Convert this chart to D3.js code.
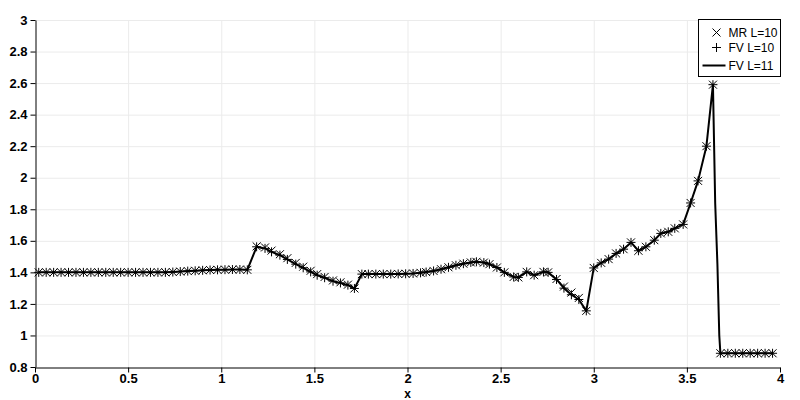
<!DOCTYPE html>
<html>
<head>
<meta charset="utf-8">
<script src="https://cdn.jsdelivr.net/npm/d3@7"></script>
<style>
  body { margin: 0; background: #fff; }
  #chart text { font-family: "Liberation Sans", Arial, sans-serif; }
  .axis text { font-size: 13px; font-weight: bold; fill: #000; }
  .axis path, .axis line { stroke: #000; }
  .grid line { stroke: #ebebeb; }
</style>
</head>
<body>
<div id="chart"></div>
<script>
// sample positions (adaptive mesh)
const xPos = [
  0.02,0.06,0.10,0.14,0.18,0.22,0.26,0.30,0.34,0.38,0.42,0.46,0.50,0.54,0.58,0.62,0.66,0.70,
  0.74,0.78,0.82,0.86,0.90,0.94,0.98,1.02,1.06,1.10,1.14,
  1.19,1.235,1.27,1.315,1.355,1.40,1.44,1.48,1.515,1.555,1.60,1.64,1.68,1.715,
  1.755,1.79,1.83,1.87,1.91,1.95,1.99,2.03,2.07,2.10,
  2.14,2.18,2.22,2.26,2.30,2.34,2.37,2.41,2.44,2.48,2.52,2.57,
  2.595,2.64,2.68,2.73,2.755,2.80,2.84,2.88,2.92,2.96,
  3.00,3.04,3.08,3.12,3.16,3.20,3.24,3.28,3.325,3.36,3.40,
  3.435,3.48,3.52,3.56,3.605,3.64,
  3.68,3.72,3.76,3.80,3.84,3.88,3.92,3.96
];
const fvL10 = [
  1.40,1.40,1.40,1.40,1.40,1.40,1.40,1.40,1.40,1.40,1.40,1.40,1.40,1.40,1.40,1.40,1.40,1.40,
  1.402,1.405,1.408,1.410,1.413,1.415,1.416,1.417,1.418,1.418,1.416,
  1.562,1.552,1.530,1.509,1.482,1.452,1.429,1.403,1.382,1.366,1.344,1.333,1.319,1.298,
  1.389,1.389,1.389,1.389,1.389,1.390,1.391,1.393,1.397,1.402,
  1.409,1.420,1.432,1.445,1.455,1.463,1.467,1.462,1.452,1.431,1.400,1.371,
  1.368,1.403,1.382,1.403,1.400,1.355,1.300,1.258,1.228,1.156,
  1.428,1.460,1.484,1.520,1.547,1.590,1.537,1.562,1.604,1.647,1.657,
  1.679,1.704,1.840,1.980,2.200,2.590,
  0.887,0.887,0.887,0.887,0.887,0.887,0.887,0.887
];
const mrL10 = [
  1.40,1.40,1.40,1.40,1.40,1.40,1.40,1.40,1.40,1.40,1.40,1.40,1.40,1.40,1.40,1.40,1.40,1.40,
  1.402,1.405,1.408,1.410,1.413,1.415,1.416,1.417,1.418,1.418,1.416,
  1.565,1.558,1.538,1.515,1.490,1.460,1.436,1.410,1.389,1.371,1.349,1.337,1.322,1.298,
  1.389,1.389,1.389,1.389,1.389,1.390,1.391,1.393,1.397,1.402,
  1.409,1.420,1.432,1.445,1.455,1.463,1.467,1.462,1.452,1.431,1.400,1.371,
  1.368,1.403,1.382,1.403,1.400,1.358,1.310,1.272,1.238,1.156,
  1.428,1.460,1.484,1.520,1.547,1.590,1.537,1.562,1.604,1.647,1.657,
  1.679,1.704,1.840,1.980,2.200,2.590,
  0.887,0.887,0.887,0.887,0.887,0.887,0.887,0.887
];
// FV L=11 follows the L=10 samples plus extra points inside the shock
const shockX = [3.652, 3.664, 3.674];
const shockY = [1.84, 1.45, 1.00];

const xTicks = [0, 0.5, 1, 1.5, 2, 2.5, 3, 3.5, 4];
const yTicks = [0.8, 1, 1.2, 1.4, 1.6, 1.8, 2, 2.2, 2.4, 2.6, 2.8, 3];
const legendLabels = ["MR L=10", "FV L=10", "FV L=11"];

const w = 800, h = 400;
const margin = {left: 35, right: 20, top: 20, bottom: 33};

const x = d3.scaleLinear().domain([0, 4]).range([margin.left, w - margin.right]);
const y = d3.scaleLinear().domain([0.8, 3]).range([h - margin.bottom, margin.top]);

const svg = d3.select("#chart").append("svg")
  .attr("width", w)
  .attr("height", h);

svg.append("rect").attr("width", w).attr("height", h).attr("fill", "#fff");

// grid
svg.append("g").attr("class", "grid")
  .selectAll("line.v").data(xTicks.filter(d => d > 0 && d < 4)).enter()
  .append("line")
  .attr("x1", d => x(d) + 0.5).attr("x2", d => x(d) + 0.5)
  .attr("y1", y(3)).attr("y2", y(0.8));
svg.append("g").attr("class", "grid")
  .selectAll("line.h").data(yTicks.filter(d => d > 0.8)).enter()
  .append("line")
  .attr("x1", x(0)).attr("x2", x(4))
  .attr("y1", d => y(d) + 0.5).attr("y2", d => y(d) + 0.5);

const fmt = d => d3.format("~g")(d);

svg.append("g")
  .attr("class", "axis")
  .attr("transform", "translate(0," + (h - margin.bottom + 0.5) + ")")
  .call(d3.axisBottom(x).tickValues(xTicks).tickFormat(fmt).tickSize(5).tickPadding(1).tickSizeOuter(0));

svg.append("g")
  .attr("class", "axis")
  .attr("transform", "translate(" + (margin.left + 0.5) + ",0)")
  .call(d3.axisLeft(y).tickValues(yTicks).tickFormat(fmt).tickSize(5).tickSizeOuter(0));

svg.append("text")
  .attr("x", x(2))
  .attr("y", h - 2)
  .attr("text-anchor", "middle")
  .attr("font-size", 12)
  .attr("font-weight", "bold")
  .text("x");

// FV L=11 line
const fineData = xPos.map((d, i) => [d, fvL10[i]])
  .concat(shockX.map((d, i) => [d, shockY[i]]))
  .sort((a, b) => a[0] - b[0]);

svg.append("path")
  .datum(fineData)
  .attr("fill", "none")
  .attr("stroke", "#000")
  .attr("stroke-width", 2)
  .attr("stroke-linejoin", "round")
  .attr("d", d3.line().x(d => x(d[0])).y(d => y(d[1])));

const s = 4;
const crossPath = "M" + (-s) + "," + (-s) + "L" + s + "," + s + "M" + (-s) + "," + s + "L" + s + "," + (-s);
const plusPath = "M" + (-s - 0.5) + ",0L" + (s + 0.5) + ",0M0," + (-s - 0.5) + "L0," + (s + 0.5);

svg.append("g").selectAll("path")
  .data(xPos).enter()
  .append("path")
  .attr("transform", (d, i) => "translate(" + x(d) + "," + y(mrL10[i]) + ")")
  .attr("d", crossPath)
  .attr("stroke", "#000")
  .attr("stroke-width", 1)
  .attr("fill", "none");

svg.append("g").selectAll("path")
  .data(xPos).enter()
  .append("path")
  .attr("transform", (d, i) => "translate(" + x(d) + "," + y(fvL10[i]) + ")")
  .attr("d", plusPath)
  .attr("stroke", "#000")
  .attr("stroke-width", 1)
  .attr("fill", "none");

// legend
const lg = svg.append("g").attr("transform", "translate(698.5,19.5)");
lg.append("rect")
  .attr("width", 82).attr("height", 57)
  .attr("fill", "#fff").attr("stroke", "#000");
const rowY = [13, 28, 46];
lg.append("path").attr("transform", "translate(18," + rowY[0] + ")")
  .attr("d", crossPath).attr("stroke", "#000").attr("fill", "none");
lg.append("path").attr("transform", "translate(18," + rowY[1] + ")")
  .attr("d", plusPath).attr("stroke", "#000").attr("fill", "none");
lg.append("line")
  .attr("x1", 4).attr("x2", 27)
  .attr("y1", rowY[2]).attr("y2", rowY[2])
  .attr("stroke", "#000").attr("stroke-width", 2);
lg.selectAll("text.lab").data(legendLabels).enter()
  .append("text")
  .attr("x", 30)
  .attr("y", (d, i) => rowY[i])
  .attr("dy", "0.35em")
  .attr("font-size", 12)
  .text(d => d);
</script>
</body>
</html>
